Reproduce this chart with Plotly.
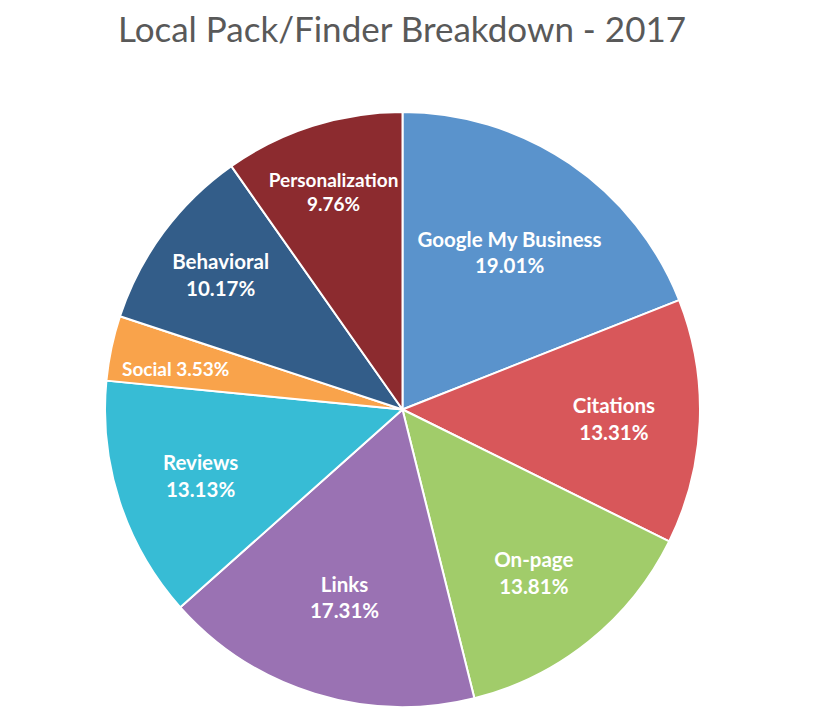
import plotly.graph_objects as go
import math

# data
labels = ["Google My Business", "Citations", "On-page", "Links", "Reviews",
          "Social", "Behavioral", "Personalization"]
shares = [19.01, 13.31, 13.81, 17.31, 13.13, 3.53, 10.17, 9.76]
colors = ["#5A93CC", "#D8575A", "#A1CC6A", "#9A72B3", "#37BCD5",
          "#F9A34B", "#335D89", "#8C2B2F"]

W, H = 813, 726
FONT = "Lato, Open Sans, sans-serif"

# the page body has an 8px margin, so positions are shifted by 8
cx, cy, rad = 394.5, 401.5, 297.5   # pie centre / radius in plot pixels

# label + value; Social is too thin for inside text, it gets an annotation
texts = []
for lab, val in zip(labels, shares):
    texts.append("" if lab == "Social" else f"<b>{lab}<br>{val:.2f}%</b>")

fig = go.Figure(go.Pie(
    labels=labels,
    values=shares,
    text=texts,
    textinfo="text",
    textposition="inside",
    insidetextorientation="horizontal",
    insidetextfont=dict(family=FONT, size=20.5, color="white"),
    marker=dict(colors=colors, line=dict(color="white", width=2)),
    sort=False,
    direction="clockwise",
    rotation=0,
    domain=dict(x=[(cx - rad) / W, (cx + rad) / W],
                y=[1 - (cy + rad) / H, 1 - (cy - rad) / H]),
    showlegend=False,
))

# place the Social label on its slice's mid angle
i = labels.index("Social")
total = sum(shares)
mid = (sum(shares[:i]) + shares[i] / 2) / total * 2 * math.pi
r = 0.78 * rad
fig.add_annotation(
    text=f"<b>{labels[i]} {shares[i]:.2f}%</b>",
    x=(cx + r * math.sin(mid)) / W, y=1 - (cy - r * math.cos(mid) + 7) / H,
    xref="paper", yref="paper", xanchor="center", yanchor="middle",
    showarrow=False,
    font=dict(family=FONT, size=19, color="white"),
)

fig.update_layout(
    width=W, height=H,
    margin=dict(l=0, r=0, t=0, b=0),
    paper_bgcolor="white",
    plot_bgcolor="white",
    title=dict(
        text="Local Pack/Finder Breakdown - 2017",
        x=394 / W, xanchor="center",
        y=1 - 22 / H, yanchor="middle",
        font=dict(family=FONT, size=35, color="#595959"),
    ),
)

fig.write_html("out.html")
